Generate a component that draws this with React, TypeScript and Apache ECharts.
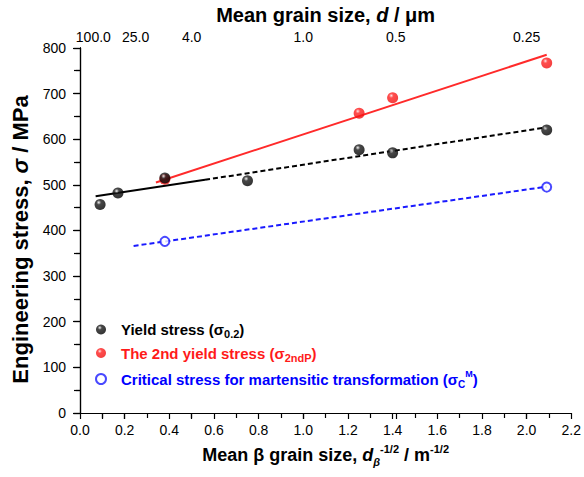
import React, { useEffect, useRef } from "react";
import * as echarts from "echarts";

// ---- data ----
const yieldX = [0.09, 0.17, 0.38, 0.75, 1.25, 1.4, 2.09];
const yieldY = [457, 482, 515, 509, 577, 570, 620];

const secondX = [0.38, 1.25, 1.4, 2.09];
const secondY = [512, 657, 691, 767];

const critX = [0.38, 2.09];
const critY = [376, 495];

// fitted lines (end points)
const yieldFitSolidX = [0.07, 0.56];
const yieldFitSolidY = [475, 511];
const yieldFitDashX = [0.56, 2.09];
const yieldFitDashY = [511, 626];
const secondFitX = [0.34, 2.09];
const secondFitY = [505, 785];
const critFitX = [0.24, 2.09];
const critFitY = [366, 496];

// top axis: mean grain size d (µm) and its labels
const grainSizes = [100, 25, 4, 1, 0.5, 0.25];
const grainLabels = ["100.0", "25.0", "4.0", "1.0", "0.5", "0.25"];
const grainPositions = grainSizes.map((d) => 1 / Math.sqrt(d));

const FONT = 'Arial, "Liberation Sans", Helvetica, sans-serif';
const BLUE = "#1a1aff";
const RED = "#ff2a2a";

const zip = (xs: number[], ys: number[]) => xs.map((x, i) => [x, ys[i]]);

export default function App() {
  const ref = useRef<HTMLDivElement>(null);

  useEffect(() => {
    if (!ref.current) return;
    const chart = echarts.init(ref.current, null, { renderer: "svg" });

    const blackSphere = new echarts.graphic.RadialGradient(0.38, 0.32, 0.7, [
      { offset: 0, color: "#f4f4f4" },
      { offset: 0.12, color: "#9a9a9a" },
      { offset: 0.3, color: "#1a1a1a" },
      { offset: 1, color: "#000000" },
    ]);
    const redSphere = new echarts.graphic.RadialGradient(0.38, 0.32, 0.7, [
      { offset: 0, color: "#fff2f2" },
      { offset: 0.12, color: "#ff8a8a" },
      { offset: 0.3, color: "#ff2020" },
      { offset: 1, color: "#f01010" },
    ]);

    const axisLineStyle = { color: "#000", width: 1.2 };

    const option: any = {
      animation: false,
      backgroundColor: "#fff",
      textStyle: { fontFamily: FONT },
      grid: { left: 80, right: 11, top: 46, bottom: 64, containLabel: false },
      legend: {
        orient: "vertical",
        left: 90,
        top: 317,
        itemWidth: 30,
        itemHeight: 10,
        itemGap: 6,
        data: ["yield", "second", "crit"],
        formatter: (name: string) => {
          if (name === "yield") return "{k|Yield stress (σ}{ks|0.2}{k|)}";
          if (name === "second") return "{r|The 2nd yield stress (σ}{rs|2ndP}{r|)}";
          return "{b|Critical stress for martensitic transformation (σ}{bs|C}{bp|M}{b|)}";
        },
        textStyle: {
          fontFamily: FONT,
          rich: {
            k: { color: "#000", fontSize: 15, fontWeight: "bold", lineHeight: 20, fontFamily: FONT },
            ks: { color: "#000", fontSize: 11, fontWeight: "bold", lineHeight: 11, verticalAlign: "bottom", fontFamily: FONT },
            r: { color: "#ff1a1a", fontSize: 15, fontWeight: "bold", lineHeight: 20, fontFamily: FONT },
            rs: { color: "#ff1a1a", fontSize: 11, fontWeight: "bold", lineHeight: 11, verticalAlign: "bottom", fontFamily: FONT },
            b: { color: "#0000ff", fontSize: 15, fontWeight: "bold", lineHeight: 20, fontFamily: FONT },
            bs: { color: "#0000ff", fontSize: 10, fontWeight: "bold", lineHeight: 10, verticalAlign: "bottom", fontFamily: FONT },
            bp: { color: "#0000ff", fontSize: 9, fontWeight: "bold", lineHeight: 9, verticalAlign: "top", fontFamily: FONT },
          },
        },
      },
      xAxis: [
        {
          type: "value",
          position: "bottom",
          min: 0,
          max: 2.2,
          interval: 0.2,
          axisLine: { show: true, lineStyle: axisLineStyle },
          axisTick: { show: true, inside: false, length: 6, lineStyle: axisLineStyle },
          minorTick: { show: true, splitNumber: 2, length: 5, lineStyle: axisLineStyle },
          splitLine: { show: false },
          axisLabel: {
            color: "#000",
            fontSize: 14,
            fontFamily: FONT,
            margin: 10,
            formatter: (v: number) => v.toFixed(1),
          },
          name: "Mean β grain size, {i|d}{sub|β}{sup|-1/2} / m{sup|-1/2}",
          nameLocation: "middle",
          nameGap: 30,
          nameTextStyle: {
            color: "#000",
            fontSize: 18,
            fontWeight: "bold",
            fontFamily: FONT,
            lineHeight: 24,
            rich: {
              i: { fontSize: 18, fontWeight: "bold", fontStyle: "italic", fontFamily: FONT, lineHeight: 24, color: "#000" },
              sub: { fontSize: 11, fontWeight: "bold", fontStyle: "italic", fontFamily: FONT, lineHeight: 11, verticalAlign: "bottom", color: "#000" },
              sup: { fontSize: 11, fontWeight: "bold", fontFamily: FONT, lineHeight: 11, verticalAlign: "top", color: "#000" },
            },
          },
        },
        {
          type: "value",
          position: "top",
          min: 0,
          max: 2.2,
          axisLine: { show: true, lineStyle: axisLineStyle },
          axisTick: { show: true, inside: true, length: 6, customValues: grainPositions, lineStyle: axisLineStyle },
          splitLine: { show: false },
          axisLabel: {
            color: "#000",
            fontSize: 14,
            fontFamily: FONT,
            margin: 4,
            customValues: grainPositions,
            formatter: (v: number) => {
              const idx = grainPositions.findIndex((p) => Math.abs(p - v) < 1e-6);
              if (idx < 0) return "";
              const cls = idx === 0 ? "l" : idx === 1 ? "r" : "n";
              return `{${cls}|${grainLabels[idx]}}`;
            },
            rich: {
              l: { fontSize: 14, fontFamily: FONT, color: "#000", padding: [0, 18, 0, 0] },
              r: { fontSize: 14, fontFamily: FONT, color: "#000", padding: [0, 0, 0, 22] },
              n: { fontSize: 14, fontFamily: FONT, color: "#000" },
            },
          },
          name: "Mean grain size, {i|d} / μm",
          nameLocation: "middle",
          nameGap: 22,
          nameTextStyle: {
            color: "#000",
            fontSize: 20,
            fontWeight: "bold",
            fontFamily: FONT,
            rich: {
              i: { fontSize: 20, fontWeight: "bold", fontStyle: "italic", fontFamily: FONT, color: "#000" },
            },
          },
        },
      ],
      yAxis: [
        {
          type: "value",
          position: "left",
          min: 0,
          max: 800,
          interval: 100,
          axisLine: { show: true, lineStyle: axisLineStyle },
          axisTick: { show: true, inside: false, length: 7, lineStyle: axisLineStyle },
          minorTick: { show: true, splitNumber: 2, length: 4, lineStyle: axisLineStyle },
          splitLine: { show: false },
          axisLabel: { color: "#000", fontSize: 14, fontFamily: FONT, margin: 14 },
          name: "Engineering stress, {i|σ} / MPa",
          nameLocation: "middle",
          nameGap: 48,
          nameTextStyle: {
            color: "#000",
            fontSize: 22,
            fontWeight: "bold",
            fontFamily: FONT,
            padding: [0, 18, 0, 0],
            rich: {
              i: { fontSize: 22, fontWeight: "bold", fontStyle: "italic", fontFamily: FONT, color: "#000" },
            },
          },
        },
        {
          type: "value",
          position: "right",
          min: 0,
          max: 800,
          interval: 50,
          axisLine: { show: true, lineStyle: axisLineStyle },
          axisTick: { show: true, inside: true, length: 6, lineStyle: axisLineStyle },
          splitLine: { show: false },
          axisLabel: { show: false },
        },
      ],
      series: [
        {
          type: "line",
          data: zip(yieldFitSolidX, yieldFitSolidY),
          symbol: "none",
          lineStyle: { color: "#000", width: 2 },
          z: 1,
          silent: true,
        },
        {
          type: "line",
          data: zip(yieldFitDashX, yieldFitDashY),
          symbol: "none",
          lineStyle: { color: "#000", width: 2, type: [5, 3] },
          z: 1,
          silent: true,
        },
        {
          type: "line",
          data: zip(secondFitX, secondFitY),
          symbol: "none",
          lineStyle: { color: RED, width: 2 },
          z: 1,
          silent: true,
        },
        {
          type: "line",
          data: zip(critFitX, critFitY),
          symbol: "none",
          lineStyle: { color: BLUE, width: 2, type: [5, 3] },
          z: 1,
          silent: true,
        },
        {
          name: "second",
          type: "scatter",
          data: zip(secondX, secondY),
          symbol: "circle",
          symbolSize: 11,
          itemStyle: { color: redSphere },
          z: 3,
        },
        {
          name: "yield",
          type: "scatter",
          data: zip(yieldX, yieldY),
          symbol: "circle",
          symbolSize: 11,
          itemStyle: { color: blackSphere },
          z: 4,
        },
        {
          name: "crit",
          type: "scatter",
          data: zip(critX, critY),
          symbol: "circle",
          symbolSize: 9,
          itemStyle: { color: "#fff", borderColor: BLUE, borderWidth: 2 },
          z: 4,
        },
      ],
    };

    chart.setOption(option);
    return () => chart.dispose();
  }, []);

  return <div ref={ref} style={{ width: 584, height: 477, position: "absolute", left: 0, top: 0 }} />;
}
